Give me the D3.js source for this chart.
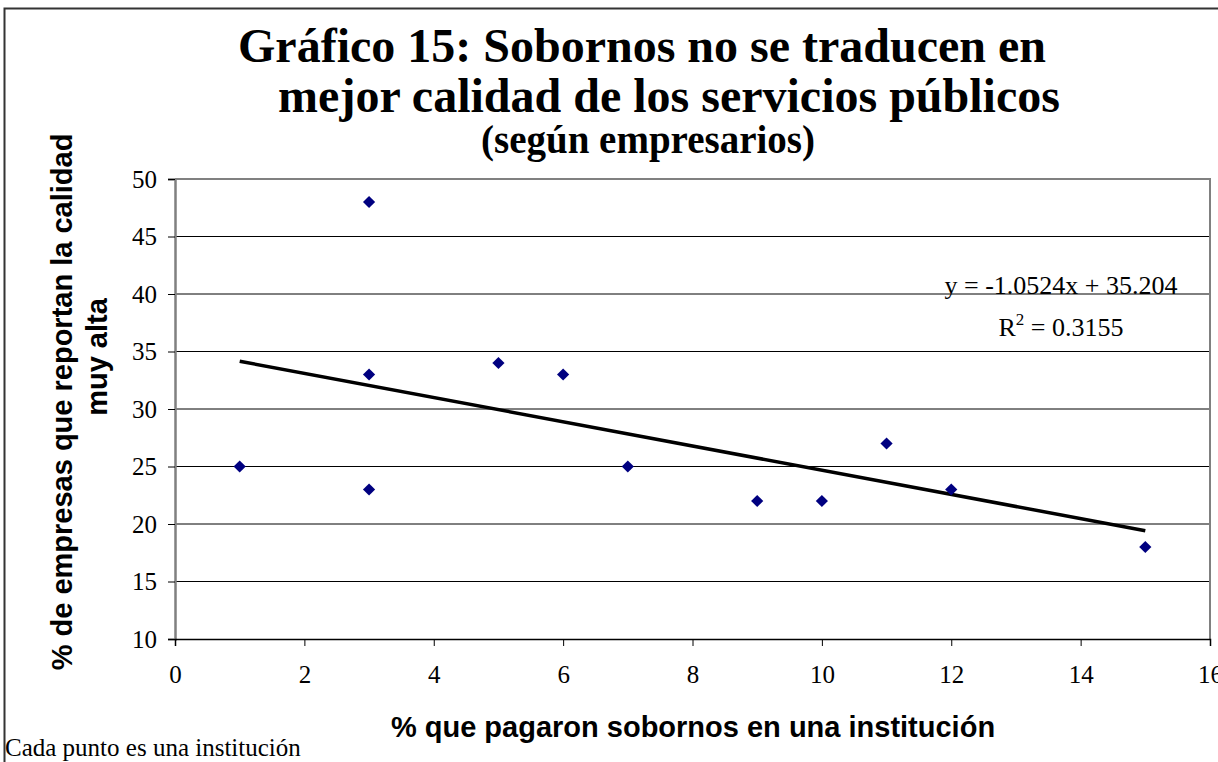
<!DOCTYPE html>
<html lang="es">
<head>
    <meta charset="UTF-8">
    <title>Gráfico 15</title>
    <script src="https://cdn.jsdelivr.net/npm/d3@7"></script>
    <style>
    body { margin: 0; background: #fff; }
    .serif { font-family: "Liberation Serif", "Times New Roman", serif; }
    .sans { font-family: "Liberation Sans", Arial, sans-serif; font-weight: bold; }
    g.grid line { stroke: #000; stroke-width: 1; }
    g.pts path { fill: #000080; }
    </style>
</head>
<body>
<script>
// data
var bribes  = [1, 3, 3, 3, 5, 6, 7, 9, 10, 11, 12, 15];
var quality = [25, 48, 33, 23, 34, 33, 25, 22, 22, 27, 23, 18];
var xTicks = [0, 2, 4, 6, 8, 10, 12, 14, 16];
var yTicks = [10, 15, 20, 25, 30, 35, 40, 45, 50];
var slope = -1.0524, intercept = 35.204;
var titleLines = ["Gráfico 15: Sobornos no se traducen en", "mejor calidad de los servicios públicos"];
var subTitle = "(según empresarios)";

var width = 1218, height = 762;
var svg = d3.select("body").append("svg").attr("width", width).attr("height", height);

// outer chart frame (runs past the window on the right and bottom)
svg.append("rect").attr("x", 4.5).attr("y", 8.5).attr("width", 1300).attr("height", 800)
    .attr("fill", "#fff").attr("stroke", "#333").attr("stroke-width", 2);

var x = d3.scaleLinear().domain([0, 16]).range([175, 1210]);
var y = d3.scaleLinear().domain([10, 50]).range([639, 179]);

// gridlines
svg.append("g").attr("class", "grid")
    .selectAll("line").data(yTicks.slice(1, -1)).enter().append("line")
    .attr("x1", x(0)).attr("x2", x(16))
    .attr("y1", function(d){ return y(d); }).attr("y2", function(d){ return y(d); });

// plot border: top and right in grey
svg.append("path")
    .attr("d", "M" + x(0) + "," + y(50) + "H" + x(16) + "V" + y(10))
    .attr("fill", "none").attr("stroke", "#808080").attr("stroke-width", 2);

// axes
var yAxis = svg.append("g").attr("transform", "translate(" + x(0) + ",0)")
    .call(d3.axisLeft(y).tickValues(yTicks).tickSize(7).tickPadding(11));
yAxis.select(".domain").attr("stroke", "#808080").attr("stroke-width", 2.5);
yAxis.selectAll(".tick line").attr("stroke", "#000");
yAxis.selectAll("text").attr("class", "serif").attr("font-size", 25).attr("fill", "#000");

var xAxis = svg.append("g").attr("transform", "translate(0," + y(10) + ")")
    .call(d3.axisBottom(x).tickValues(xTicks).tickSize(7).tickPadding(19));
xAxis.select(".domain").attr("stroke", "#000").attr("stroke-width", 1.5);
xAxis.selectAll(".tick line").attr("stroke", "#000");
xAxis.selectAll("text").attr("class", "serif").attr("font-size", 25).attr("fill", "#000");

// trend line
var trendX = [d3.min(bribes), d3.max(bribes)];
svg.append("path")
    .attr("d", d3.line()
        .x(function(d){ return x(d); })
        .y(function(d){ return y(slope * d + intercept); })(trendX))
    .attr("fill", "none").attr("stroke", "#000").attr("stroke-width", 3.5);

// points
svg.append("g").attr("class", "pts")
    .selectAll("path").data(bribes).enter().append("path")
    .attr("d", d3.symbol().type(d3.symbolDiamond2).size(95))
    .attr("transform", function(d, i){ return "translate(" + x(d) + "," + y(quality[i]) + ")"; });

// titles
svg.append("text").attr("class", "serif").attr("font-weight", "bold").attr("font-size", 48)
    .attr("x", 642).attr("y", 62).attr("text-anchor", "middle").text(titleLines[0]);
svg.append("text").attr("class", "serif").attr("font-weight", "bold").attr("font-size", 48)
    .attr("x", 669).attr("y", 112).attr("text-anchor", "middle").text(titleLines[1]);
svg.append("text").attr("class", "serif").attr("font-weight", "bold").attr("font-size", 39)
    .attr("x", 648).attr("y", 153).attr("text-anchor", "middle").text(subTitle);

// regression label
svg.append("text").attr("class", "serif").attr("font-size", 26)
    .attr("x", 1061).attr("y", 294).attr("text-anchor", "middle")
    .text("y = " + slope + "x + " + intercept);
var r2 = svg.append("text").attr("class", "serif").attr("font-size", 26)
    .attr("x", 1061).attr("y", 336).attr("text-anchor", "middle");
r2.append("tspan").text("R");
r2.append("tspan").attr("font-size", 17).attr("dy", -11).text("2");
r2.append("tspan").attr("dy", 11).text(" = 0.3155");

// axis titles
svg.append("text").attr("class", "sans").attr("font-size", 29)
    .attr("transform", "translate(72,402) rotate(-90)").attr("text-anchor", "middle")
    .text("% de empresas que reportan la calidad");
svg.append("text").attr("class", "sans").attr("font-size", 29)
    .attr("transform", "translate(107,357) rotate(-90)").attr("text-anchor", "middle")
    .text("muy alta");
svg.append("text").attr("class", "sans").attr("font-size", 29)
    .attr("x", 693).attr("y", 737).attr("text-anchor", "middle")
    .text("% que pagaron sobornos en una institución");

// note
svg.append("text").attr("class", "serif").attr("font-size", 25)
    .attr("x", 5).attr("y", 756).text("Cada punto es una institución");
</script>
</body>
</html>
